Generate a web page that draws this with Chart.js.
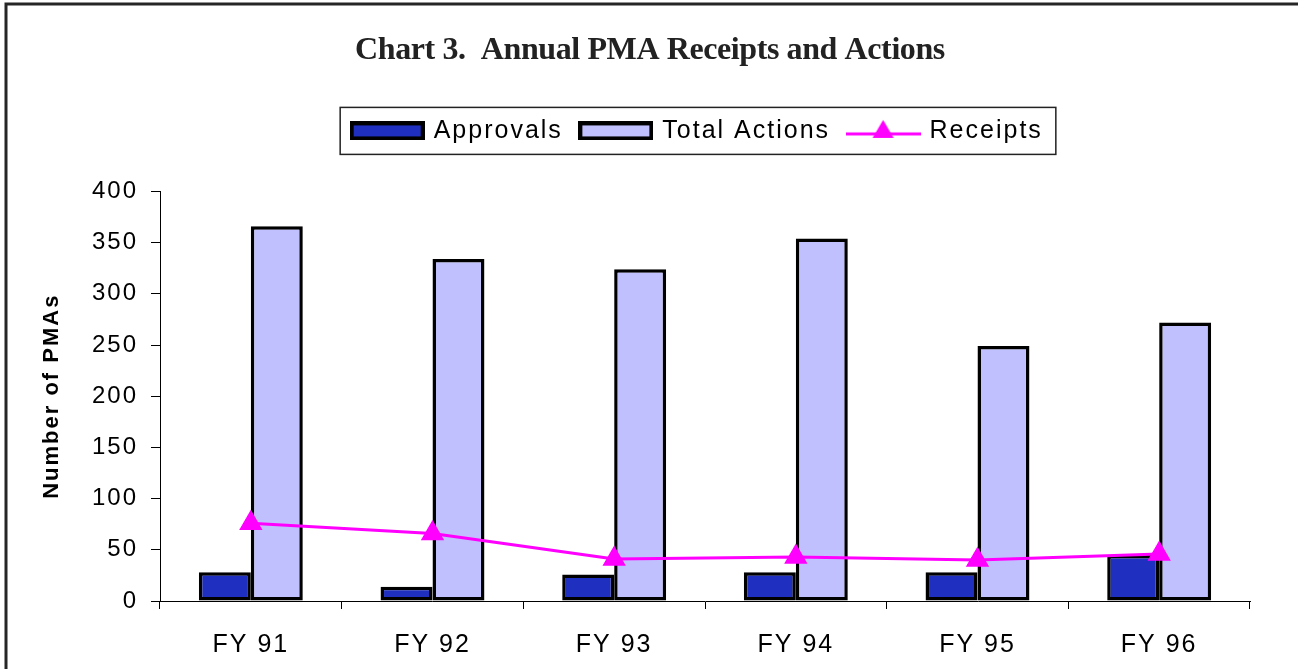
<!DOCTYPE html>
<html>
<head>
<meta charset="utf-8">
<title>Chart 3. Annual PMA Receipts and Actions</title>
<script src="https://cdn.jsdelivr.net/npm/chart.js@4.4.1/dist/chart.umd.min.js"></script>
<style>
  html, body { margin: 0; padding: 0; background: #fff; }
  canvas { display: block; }
</style>
</head>
<body>
<canvas id="pmaChart" width="1298" height="669"></canvas>
<script>
// DATA
const years = ['FY 91', 'FY 92', 'FY 93', 'FY 94', 'FY 95', 'FY 96'];
const approvals = [28, 14, 26, 28, 28, 45];
const totalActions = [366, 334, 324, 354, 249, 272];
const receipts = [76, 66, 41, 43, 40, 46];
const yTicks = { min: 0, max: 400, step: 50 };

const SANS = 'Arial, "Liberation Sans", sans-serif';
const SERIF = '"Times New Roman", "Liberation Serif", serif';
const DARK_BLUE = '#1f2fc0';
const LIGHT_BLUE = '#c0c0ff';
const MAGENTA = '#ff00ff';

// legend swatches, drawn as little images
function barSwatch(fill) {
	const c = document.createElement('canvas');
	c.width = 75;
	c.height = 19;
	const g = c.getContext('2d');
	g.fillStyle = '#000';
	g.fillRect(0, 0, 75, 19);
	g.fillStyle = fill;
	g.fillRect(4, 4, 67, 11);
	return c;
}

function lineSwatch() {
	const c = document.createElement('canvas');
	c.width = 75;
	c.height = 24;
	const g = c.getContext('2d');
	g.strokeStyle = MAGENTA;
	g.lineWidth = 3;
	g.beginPath();
	g.moveTo(0, 15);
	g.lineTo(75, 15);
	g.stroke();
	g.fillStyle = MAGENTA;
	g.beginPath();
	g.moveTo(37.5, 1);
	g.lineTo(48, 19);
	g.lineTo(27, 19);
	g.closePath();
	g.fill();
	return c;
}

const swatches = [barSwatch(DARK_BLUE), barSwatch(LIGHT_BLUE), lineSwatch()];

// letter spacing, legend gap, box and frame
const tweaks = {
	id: 'tweaks',
	afterInit(chart) {
		const title = chart.titleBlock;
		const drawTitle = title.draw.bind(title);
		title.draw = function() {
			const ctx = chart.ctx;
			ctx.save();
			ctx.letterSpacing = '-0.4px';
			drawTitle();
			ctx.restore();
		};
		const legend = chart.legend;
		const fitLegend = legend.fit.bind(legend);
		legend.fit = function() {
			fitLegend();
			legend.height += 38;
		};
	},
	beforeLayout(chart) {
		chart.ctx.letterSpacing = '2px';
	},
	afterLayout(chart) {
		chart.titleBlock.left += 10;
		chart.titleBlock.right += 10;
		chart.legend.left += 58;
		chart.legend.right += 58;
	},
	beforeDraw(chart) {
		const ctx = chart.ctx;
		ctx.save();
		ctx.fillStyle = '#fff';
		ctx.fillRect(0, 0, chart.width, chart.height);
		ctx.restore();
		ctx.letterSpacing = '2px';
	},
	afterDraw(chart) {
		const ctx = chart.ctx;
		const boxes = chart.legend.legendHitBoxes;
		if (boxes && boxes.length) {
			const left = Math.min(...boxes.map(b => b.left)) - 13;
			const right = Math.max(...boxes.map(b => b.left + b.width)) + 13;
			const cy = boxes[0].top + boxes[0].height / 2;
			ctx.save();
			ctx.strokeStyle = '#222';
			ctx.lineWidth = 1.5;
			ctx.strokeRect(left, cy - 23.5, right - left, 47);
			ctx.restore();
		}
		// frame of the original figure (left and top edges only)
		ctx.save();
		ctx.strokeStyle = '#262626';
		ctx.lineWidth = 3;
		ctx.beginPath();
		ctx.moveTo(6, chart.height);
		ctx.lineTo(6, 4);
		ctx.lineTo(chart.width, 4);
		ctx.stroke();
		ctx.restore();
	}
};

new Chart(document.getElementById('pmaChart'), {
	type: 'bar',
	data: {
		labels: years,
		datasets: [{
			label: 'Approvals',
			data: approvals,
			backgroundColor: DARK_BLUE,
			borderColor: '#000',
			borderWidth: 3.5,
			borderSkipped: false,
			categoryPercentage: 0.572,
			barPercentage: 1.0
		},
		{
			label: 'Total Actions',
			data: totalActions,
			backgroundColor: LIGHT_BLUE,
			borderColor: '#000',
			borderWidth: 3.5,
			borderSkipped: false,
			categoryPercentage: 0.572,
			barPercentage: 1.0
		},
		{
			type: 'line',
			label: 'Receipts',
			data: receipts,
			order: -1,
			borderColor: MAGENTA,
			backgroundColor: MAGENTA,
			borderWidth: 3,
			tension: 0,
			pointStyle: 'triangle',
			pointRadius: 12,
			pointBorderWidth: 1.5,
			pointBackgroundColor: MAGENTA,
			pointBorderColor: MAGENTA
		}]
	},
	options: {
		responsive: false,
		animation: false,
		devicePixelRatio: 1,
		layout: {
			padding: { left: 30, right: 48, top: 22, bottom: 11 }
		},
		plugins: {
			tooltip: { enabled: false },
			title: {
				display: true,
				text: 'Chart 3.  Annual PMA Receipts and Actions',
				color: '#222',
				font: { family: SERIF, size: 32, weight: 'bold' },
				padding: { top: 10, bottom: 29 }
			},
			legend: {
				position: 'top',
				labels: {
					color: '#000',
					font: { family: SANS, size: 25 },
					usePointStyle: true,
					pointStyleWidth: 68,
					padding: 19,
					sort: (a, b) => a.datasetIndex - b.datasetIndex,
					generateLabels(chart) {
						const items = Chart.defaults.plugins.legend.labels.generateLabels(chart);
						items.forEach(item => { item.pointStyle = swatches[item.datasetIndex]; });
						return items;
					}
				}
			}
		},
		scales: {
			x: {
				grid: {
					display: true,
					drawOnChartArea: false,
					offset: true,
					tickLength: 8,
					color: '#000'
				},
				border: { color: '#000', width: 1 },
				ticks: {
					color: '#000',
					font: { family: SANS, size: 25 },
					padding: 21,
					maxRotation: 0
				},
				afterFit(scale) {
					scale.height = 57;
				}
			},
			y: {
				min: yTicks.min,
				max: yTicks.max,
				grid: {
					drawOnChartArea: false,
					tickLength: 9,
					color: '#000'
				},
				border: { color: '#000', width: 1 },
				ticks: {
					stepSize: yTicks.step,
					color: '#000',
					font: { family: SANS, size: 24 },
					padding: 13
				},
				title: {
					display: true,
					text: 'Number of PMAs',
					color: '#000',
					font: { family: SANS, size: 22, weight: 'bold' },
					padding: { top: 9, bottom: 0 }
				},
				afterFit(scale) {
					scale.width = 130;
				}
			}
		}
	},
	plugins: [tweaks]
});
</script>
</body>
</html>
